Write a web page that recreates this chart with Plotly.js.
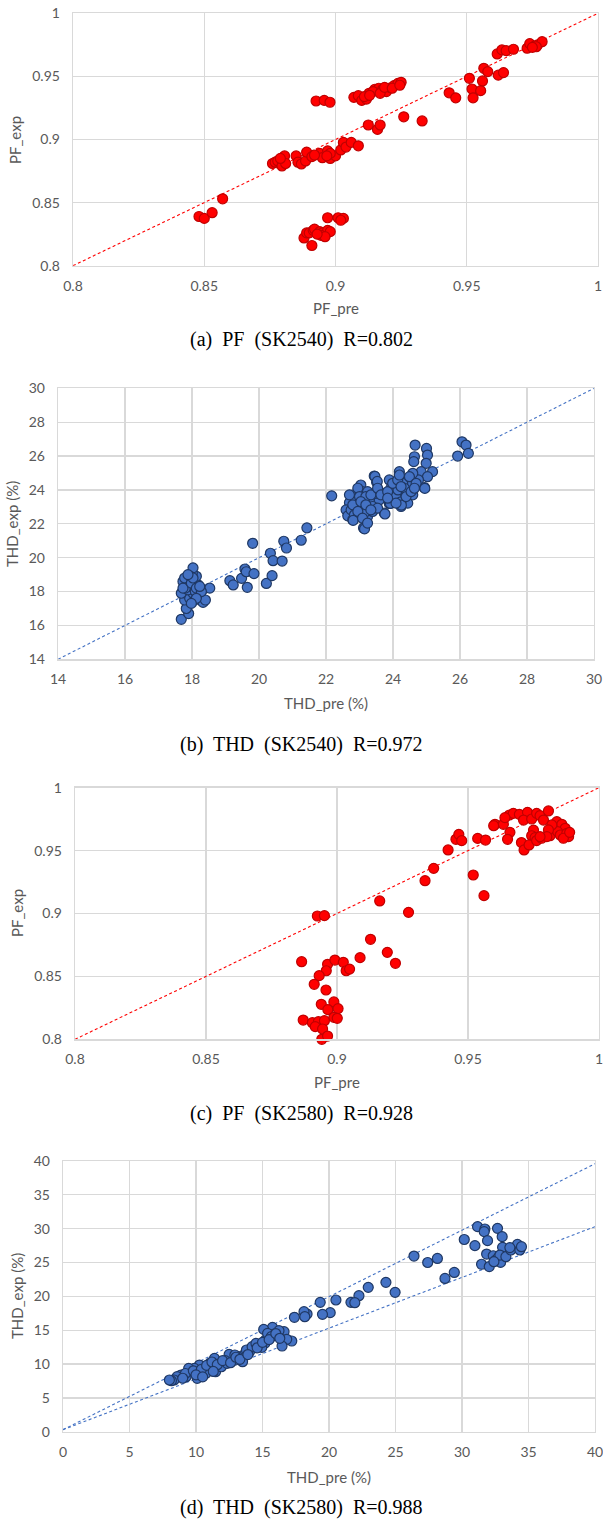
<!DOCTYPE html>
<html><head><meta charset="utf-8">
<script src="https://cdn.plot.ly/plotly-3.0.1.min.js"></script>
<style>html,body{margin:0;padding:0;background:#fff}#chart{width:603px;height:1521px}</style>
</head><body><div id="chart"></div>
<script>
// ---------- DATA ----------
// (a) PF (SK2540)
const a_pre = [0.848,0.850,0.853,0.857,0.888,0.889,0.890,0.8915,0.892,0.894,0.895,0.896,0.897,0.898,0.891,0.8945,0.896,0.893,0.897,0.901,0.903,0.902,
0.8926,0.8957,0.8979,0.876,0.877,0.878,0.8796,0.8806,0.881,0.885,0.8857,0.887,0.8886,0.889,0.891,0.894,0.895,0.897,0.898,0.900,0.902,0.903,0.904,0.906,0.9087,0.898,0.892,0.8967,0.879,
0.9125,0.916,0.917,0.926,0.933,0.907,0.9087,0.910,0.9118,0.9128,0.915,0.9165,0.918,0.9194,0.921,0.9223,0.9238,0.925,0.9143,0.917,0.9187,0.9216,0.9245,0.911,0.913,
0.9433,0.9458,0.951,0.952,0.9524,0.9553,0.956,0.9565,0.958,0.962,0.964,0.9616,0.9634,0.965,0.9678,0.973,0.974,0.9758,0.977,0.9787,0.9765,0.975];
const a_exp = [0.839,0.8375,0.842,0.853,0.822,0.826,0.826,0.828,0.829,0.827,0.826,0.824,0.828,0.827,0.816,0.824,0.823,0.825,0.838,0.838,0.8375,0.836,
0.9305,0.931,0.9295,0.881,0.882,0.883,0.879,0.887,0.881,0.887,0.882,0.8806,0.883,0.890,0.8864,0.889,0.8856,0.891,0.885,0.887,0.8917,0.8977,0.894,0.8977,0.895,0.889,0.8877,0.887,0.885,
0.9115,0.908,0.9115,0.918,0.9147,0.9334,0.9347,0.931,0.932,0.9366,0.9398,0.9406,0.9398,0.938,0.941,0.9427,0.9445,0.9453,0.938,0.9366,0.9413,0.9406,0.943,0.934,0.935,
0.937,0.933,0.9485,0.940,0.933,0.9387,0.9464,0.9564,0.9538,0.951,0.953,0.9678,0.971,0.9704,0.9715,0.9723,0.976,0.974,0.975,0.9775,0.9735,0.973];
const a_line_x = [0.8, 1];
const a_line_y = [0.8, 1];

// (b) THD (SK2540)
const b_pre = [17.68,17.9,17.83,17.78,18.08,18.33,17.93,18.23,17.68,18.03,18.18,17.88,18.31,18.53,17.98,17.83,18.18,17.73,18.08,17.93,17.78,18.13,18.01,18.03,17.8,18.1,18.2,17.95,18.4,
17.73,17.98,18.13,18.28,18.13,17.98,18.23,18.03,17.88,
19.13,19.23,19.48,19.58,19.62,19.65,19.85,19.81,20.22,20.34,20.42,20.39,20.69,20.74,20.82,21.26,21.43,22.17,
24.66,25.0,25.03,24.64,24.62,26.06,26.18,26.25,25.93,24.99,24.84,25.18,25.03,24.76,24.94,24.59,24.19,24.24,23.89,23.44,23.51,23.04,23.09,22.8,22.7,22.6,22.65,22.8,23.12,23.24,23.39,23.59,23.29,23.74,23.89,24.09,24.24,24.44,24.59,24.39,24.19,24.04,24.49,24.29,22.99,23.24,23.49,22.9,23.39,23.74,23.94,24.09,24.49,24.69,22.75,23.14,23.54,22.85,24.24,
23.76,23.92,24.95,24.25,24.15,23.46,23.53,23.15,22.81,
22.70,22.95,23.00,23.19,23.34,22.80,23.04,23.19,23.34,22.95,23.09,23.24,23.54,23.64,23.84,23.99,24.14,24.19,24.34,24.39,24.54,24.64,24.24,24.09,23.84];
const b_exp = [16.36,16.7,17.0,17.5,17.5,17.36,17.6,17.7,17.9,17.9,17.9,18.1,18.1,18.2,18.3,18.4,18.4,18.6,18.6,18.7,18.8,18.9,19.1,19.4,18.2,18.0,18.2,18.9,17.5,
18.2,18.5,18.2,18.0,17.6,17.3,18.3,18.8,19.0,
18.64,18.39,18.78,19.33,19.17,18.25,19.06,20.85,18.48,20.26,19.82,18.94,19.8,20.97,20.57,21.03,21.76,23.65,
26.65,26.45,26.06,25.96,25.67,26.84,26.65,26.16,26.0,25.57,25.08,25.08,24.78,24.59,24.14,24.98,25.08,24.69,24.59,24.82,24.45,24.29,23.9,23.7,23.25,22.82,22.47,22.24,21.75,22.43,22.73,23.41,23.41,22.63,23.2,24.39,23.02,23.22,23.71,24.0,23.71,23.9,24.29,24.39,23.02,23.9,23.8,23.41,23.02,23.8,24.1,23.61,24.78,24.39,22.82,22.63,22.92,22.53,23.3,
22.58,23.2,24.09,23.1,24.0,24.8,24.5,21.7,22.2,
23.71,24.10,23.61,23.61,23.71,23.12,23.31,23.12,22.82,22.73,22.33,22.04,24.10,23.71,23.90,24.39,24.59,24.88,24.10,23.61,23.90,24.10,24.20,23.22,23.51];
const b_line_x = [14, 30];
const b_line_y = [14, 30];

// (c) PF (SK2580)
const c_pre = [0.8865,0.8964,0.8992,0.9024,0.9088,0.8959,0.9035,0.9048,0.8932,0.8913,0.8958,0.8940,0.8988,0.8965,0.9004,0.8988,0.9001,0.8871,0.8906,0.8929,0.8952,0.8917,0.8945,0.8942,0.8964,0.8925,0.8952,
0.9128,0.9163,0.9192,0.9223,0.9273,0.9336,0.9369,0.9424,0.9454,0.9465,0.9476,0.952,0.9537,0.9561,0.9567,
0.9603,0.9635,0.966,0.9651,0.9658,0.9673,0.9696,0.9727,0.9712,0.9743,0.9762,0.9775,0.9807,0.9788,0.9750,0.9743,0.9756,0.9704,0.9714,0.9733,0.9762,0.9781,0.9813,0.9839,0.9829,0.9858,0.9871,0.9842,0.9852,0.9877,0.9884,0.9820,0.9807,0.9801,0.9775,0.9864,0.9888,0.9641,0.9598];
const c_exp = [0.8617,0.8596,0.863,0.8612,0.8649,0.8545,0.8545,0.8558,0.8506,0.8437,0.8392,0.8278,0.8297,0.8236,0.8244,0.8175,0.8167,0.8153,0.8132,0.814,0.8148,0.8101,0.8082,0.800,0.8026,0.898,0.8983,
0.8795,0.910,0.8691,0.8604,0.9009,0.9261,0.9359,0.9505,0.959,0.9629,0.9579,0.9306,0.9597,0.9142,0.9584,
0.9709,0.9709,0.9645,0.959,0.9783,0.9796,0.9788,0.9804,0.9743,0.9751,0.9796,0.9778,0.9815,0.9743,0.9663,0.9618,0.9603,0.9564,0.9505,0.9545,0.958,0.9598,0.9618,0.973,0.9677,0.9709,0.9677,0.9651,0.9624,0.9637,0.9611,0.9704,0.9664,0.9611,0.9611,0.9598,0.9645,0.9762,0.9698];
const c_line_x = [0.8, 1];
const c_line_y = [0.8, 1];

// (d) THD (SK2580)
const d_pre = [26.39,27.42,28.15,28.72,29.42,30.17,30.97,31.17,31.72,31.67,31.92,32.67,33.02,31.47,32.05,31.85,32.35,32.55,32.72,32.9,33.05,32.85,33.3,33.67,34.17,34.35,34.47,32.4,33.6,
24.28,24.97,22.95,22.25,21.65,21.94,20.52,20.09,19.51,19.34,18.35,18.12,18.18,17.4,16.62,17.2,16.82,16.47,15.75,15.09,15.52,15.87,16.24,15.17,14.94,14.51,14.22,14.02,13.58,13.5,13.12,12.63,12.92,12.49,12.2,11.76,11.39,11.04,10.9,10.61,10.26,10.26,10.09,9.88,9.6,9.45,9.25,8.87,8.58,8.35,8.15,8.0,11.04,11.47,10.75,11.91,12.34,12.92,13.79,14.22,14.51,15.23,15.38,15.66,
9.2,9.8,10.4,10.8,11.2,11.6,12.0,12.6,13.0,13.3,13.9,14.6,15.0,15.5,16.0,16.3,9.0,10.0,10.5,11.3];
const d_exp = [25.95,25.0,25.6,22.65,23.53,28.4,27.5,30.3,29.95,29.56,28.23,30.05,28.82,24.74,24.4,26.25,26.0,25.37,25.71,25.02,27.24,26.1,25.86,26.85,27.68,26.85,27.34,25.12,27.2,
22.07,20.59,21.33,20.1,19.11,19.06,19.46,17.59,17.34,19.11,17.39,17.73,16.99,16.9,14.78,13.4,13.65,12.66,15.42,15.12,14.14,14.43,14.93,13.05,12.46,12.81,12.32,11.82,11.33,10.34,11.08,10.84,10.59,11.43,10.49,10.1,10.84,10.1,9.36,9.6,9.85,8.62,7.88,9.36,8.87,9.36,8.13,8.37,8.13,7.64,7.54,7.64,9.11,8.87,8.62,9.6,10.1,11.33,12.07,12.56,13.05,13.55,14.53,14.04,
8.6,9.0,9.2,9.8,10.3,9.9,10.5,10.2,11.0,10.7,11.4,12.4,13.2,13.6,14.5,13.8,7.9,8.4,8.1,8.9];
const d_upper_x = [0, 40];
const d_upper_y = [0.3, 39.6];
const d_lower_x = [0, 40];
const d_lower_y = [0.3, 30.3];

const captions = ['(a)\u00a0 PF\u00a0 (SK2540)\u00a0 R=0.802','(b)\u00a0 THD\u00a0 (SK2540)\u00a0 R=0.972','(c)\u00a0 PF\u00a0 (SK2580)\u00a0 R=0.928','(d)\u00a0 THD\u00a0 (SK2580)\u00a0 R=0.988'];
const xTitles = ['PF_pre','THD_pre (%)','PF_pre','THD_pre (%)'];
const yTitles = ['PF_exp','THD_exp (%)','PF_exp','THD_exp (%)'];

// ---------- LAYOUT ----------
const W = 603, H = 1521;
const px = v => v / W;
const py = v => 1 - v / H;
const RED = '#ff0000', RED_EDGE = '#c00000', BLUE = '#4472c4', BLUE_EDGE = '#1f3864';
const GRID = '#d9d9d9', TXT = '#595959', FONT = 'Lato, "Open Sans", sans-serif';

// pixel boxes: [left, right, top, bottom]
const boxes = [[73,598,13.3,265.7],[58,594,388.3,659.3],[75,599,787.7,1039.3],[63,595,1161,1431.7]];
const ranges = [[0.8,1],[14,30],[0.8,1],[0,40]];
const dticks = [0.05,2,0.05,5];
const xTitlePos = [[335.5,308],[326,703],[337,1082],[329,1477]];
const yTitlePos = [[15,140],[12,524],[17,913],[17,1296]];
const capPos = [[301,340],[301,744],[301,1113],[301,1507]];

function axis(i, isX) {
  const b = boxes[i];
  return {
    domain: isX ? [px(b[0]), px(b[1])] : [py(b[3]), py(b[2])],
    range: ranges[i], dtick: dticks[i], tick0: ranges[i][0],
    anchor: (isX ? 'y' : 'x') + (i === 0 ? '' : (i + 1)),
    showgrid: true, gridcolor: GRID, gridwidth: 1.3,
    showline: true, mirror: true, linecolor: GRID, linewidth: 1.3,
    zeroline: false, ticks: 'outside', ticklen: isX ? 7 : 9, tickcolor: 'rgba(0,0,0,0)',
    ticklabeloverflow: 'allow',
    tickfont: {family: FONT, size: 14, color: TXT}, automargin: false, fixedrange: true
  };
}

const layout = {
  width: W, height: H, margin: {l:0, r:0, t:0, b:0},
  paper_bgcolor: '#fff', plot_bgcolor: '#fff', showlegend: false,
  annotations: []
};
for (let i = 0; i < 4; i++) {
  const s = i === 0 ? '' : (i + 1);
  layout['xaxis' + s] = axis(i, true);
  layout['yaxis' + s] = axis(i, false);
  layout.annotations.push({xref:'paper', yref:'paper', x:px(xTitlePos[i][0]), y:py(xTitlePos[i][1]), xanchor:'center', yanchor:'middle', showarrow:false, text:xTitles[i], font:{family:FONT, size:15, color:TXT}});
  layout.annotations.push({xref:'paper', yref:'paper', x:px(yTitlePos[i][0]), y:py(yTitlePos[i][1]), xanchor:'center', yanchor:'middle', showarrow:false, textangle:-90, text:yTitles[i], font:{family:FONT, size:15, color:TXT}});
  layout.annotations.push({xref:'paper', yref:'paper', x:px(capPos[i][0]), y:py(capPos[i][1]), xanchor:'center', yanchor:'middle', showarrow:false, text:captions[i], font:{family:'"Liberation Serif", "Times New Roman", serif', size:20, color:'#000'}});
}

function line(x, y, color, i) {
  const s = i === 0 ? '' : (i + 1);
  return {x, y, mode:'lines', type:'scatter', xaxis:'x'+s, yaxis:'y'+s, hoverinfo:'skip',
    line:{color, width:1.1, dash:'3px,2.5px'}};
}
function pts(x, y, fill, edge, i) {
  const s = i === 0 ? '' : (i + 1);
  return {x, y, mode:'markers', type:'scatter', xaxis:'x'+s, yaxis:'y'+s, cliponaxis:false,
    marker:{size:10, color:fill, line:{color:edge, width:1.2}}};
}

const data = [
  line(a_line_x, a_line_y, RED, 0), pts(a_pre, a_exp, RED, RED_EDGE, 0),
  line(b_line_x, b_line_y, BLUE, 1), pts(b_pre, b_exp, BLUE, BLUE_EDGE, 1),
  line(c_line_x, c_line_y, RED, 2), pts(c_pre, c_exp, RED, RED_EDGE, 2),
  line(d_upper_x, d_upper_y, BLUE, 3), line(d_lower_x, d_lower_y, BLUE, 3), pts(d_pre, d_exp, BLUE, BLUE_EDGE, 3)
];

Plotly.newPlot('chart', data, layout, {staticPlot:true, displayModeBar:false});
</script></body></html>
